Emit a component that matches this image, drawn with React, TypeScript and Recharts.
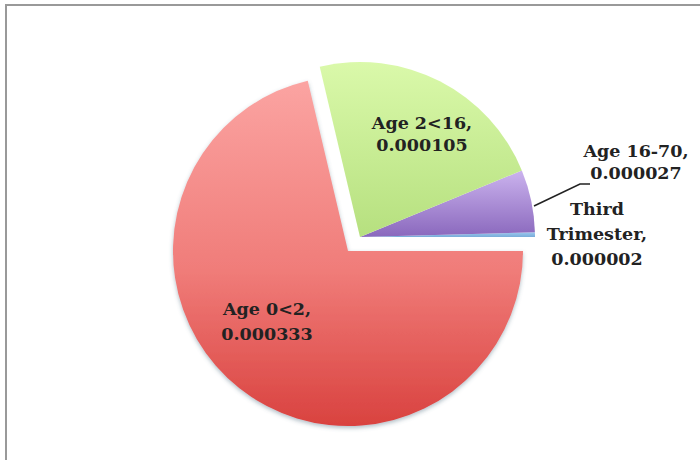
import { PieChart, Pie, Cell } from "recharts";

// slices in drawing order, counter-clockwise from 3 o'clock
const groups = ["Third Trimester", "Age 16-70", "Age 2<16", "Age 0<2"];
const risks = [0.000002, 0.000027, 0.000105, 0.000333];
const labelLines = [
  ["Third", "Trimester,", "0.000002"],
  ["Age 16-70,", "0.000027"],
  ["Age 2<16,", "0.000105"],
  ["Age 0<2,", "0.000333"],
];

const data = groups.map((g, i) => ({ name: g, value: risks[i] }));

const fills = ["url(#gBlue)", "url(#gPurple)", "url(#gGreen)", "url(#gRed)"];

// where each label block sits relative to its pie centre
const labelPos = [
  { dx: 237, dy: -3, gap: 25 },
  { dx: 276, dy: -75, gap: 22 },
  { dx: 62, dy: -103, gap: 22 },
  { dx: -81, dy: 70, gap: 25 },
];

const RED = 3;
const R = 175;

function renderLabel(show: (i: number) => boolean) {
  return (props: any) => {
    const { cx, cy, index } = props;
    if (!show(index)) return null;
    const p = labelPos[index];
    const lines = labelLines[index];
    const top = cy + p.dy - ((lines.length - 1) * p.gap) / 2;
    return (
      <g key={"lbl" + index}>
        {index === 1 && (
          <polyline
            points={`${cx + 174},${cy - 31} ${cx + 220},${cy - 53} ${cx + 230},${cy - 53}`}
            fill="none"
            stroke="#222"
            strokeWidth={1.6}
          />
        )}
        <text
          x={cx + p.dx}
          y={top}
          textAnchor="middle"
          dominantBaseline="central"
          fontFamily="'DejaVu Serif', serif"
          fontWeight="bold"
          fontSize={17.5}
          fill="#222"
        >
          {lines.map((t, k) => (
            <tspan key={k} x={cx + p.dx} dy={k === 0 ? 0 : p.gap}>
              {t}
            </tspan>
          ))}
        </text>
      </g>
    );
  };
}

export default function App() {
  return (
    <div style={{ position: "absolute", left: 0, top: 0, width: 700, height: 460, overflow: "hidden", background: "#fff" }}>
      <div
        style={{
          position: "absolute",
          left: 5,
          top: 4,
          width: 720,
          height: 480,
          border: "2px solid #999",
          boxSizing: "border-box",
        }}
      />
      <PieChart width={700} height={460} style={{ position: "absolute", left: 0, top: 0 }}>
        <defs>
          <linearGradient id="gRed" x1="0" y1="0" x2="0" y2="1">
            <stop offset="0%" stopColor="#fba4a2" />
            <stop offset="55%" stopColor="#f07c79" />
            <stop offset="100%" stopColor="#d9423f" />
          </linearGradient>
          <linearGradient id="gGreen" x1="0" y1="0" x2="0" y2="1">
            <stop offset="0%" stopColor="#daf9aa" />
            <stop offset="100%" stopColor="#b6e07f" />
          </linearGradient>
          <linearGradient id="gPurple" x1="0" y1="0" x2="0" y2="1">
            <stop offset="0%" stopColor="#cbb3ee" />
            <stop offset="100%" stopColor="#8a68bd" />
          </linearGradient>
          <linearGradient id="gBlue" x1="0" y1="0" x2="0" y2="1">
            <stop offset="0%" stopColor="#9cc8ee" />
            <stop offset="100%" stopColor="#78acd9" />
          </linearGradient>
          <filter id="pieShadow" x="-10%" y="-10%" width="120%" height="125%">
            <feDropShadow dx="0" dy="2" stdDeviation="2" floodColor="#4d7080" floodOpacity="0.45" />
          </filter>
        </defs>
        {/* exploded red slice */}
        <Pie
          data={data}
          dataKey="value"
          nameKey="name"
          cx={343}
          cy={246}
          outerRadius={R}
          startAngle={0}
          endAngle={360}
          stroke="none"
          isAnimationActive={false}
          labelLine={false}
          label={renderLabel((i) => i === RED)}
        >
          {data.map((d, i) => (
            <Cell key={d.name} fill={i === RED ? fills[i] : "none"} filter={i === RED ? "url(#pieShadow)" : undefined} />
          ))}
        </Pie>
        {/* the rest of the pie */}
        <Pie
          data={data}
          dataKey="value"
          nameKey="name"
          cx={355}
          cy={232}
          outerRadius={R}
          startAngle={0}
          endAngle={360}
          stroke="none"
          isAnimationActive={false}
          labelLine={false}
          label={renderLabel((i) => i !== RED)}
        >
          {data.map((d, i) => (
            <Cell key={d.name} fill={i === RED ? "none" : fills[i]} />
          ))}
        </Pie>
      </PieChart>
    </div>
  );
}
